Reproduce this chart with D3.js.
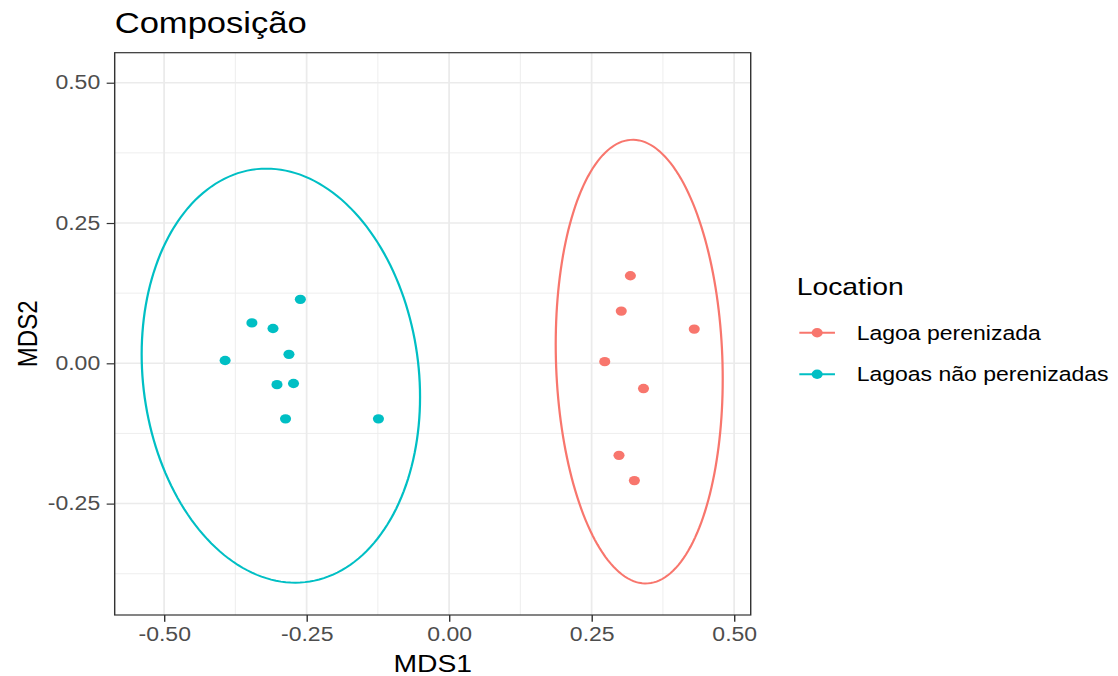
<!DOCTYPE html>
<html>
<head>
<meta charset="utf-8">
<script src="https://cdn.jsdelivr.net/npm/d3@7"></script>
<style>
  html, body { margin: 0; padding: 0; background: #ffffff; }
  svg { display: block; }
</style>
</head>
<body>
<svg id="chart"></svg>
<script>
// ---- data -------------------------------------------------------------
const groups = ["Lagoa perenizada", "Lagoas não perenizadas"];
const groupColors = ["#F8766D", "#00BFC4"];

const mds1Perenizada = [0.318, 0.302, 0.430, 0.273, 0.341, 0.298, 0.325];
const mds2Perenizada = [0.156, 0.093, 0.061, 0.003, -0.045, -0.164, -0.209];

const mds1NaoPerenizada = [-0.261, -0.346, -0.309, -0.393, -0.281, -0.302, -0.273, -0.287, -0.124];
const mds2NaoPerenizada = [0.114, 0.072, 0.062, 0.005, 0.016, -0.038, -0.036, -0.099, -0.099];

// 95% confidence ellipses per group: centre and shape matrix (MDS units)
const ellipseCenterX = [0.3335, -0.2952];
const ellipseCenterY = [0.003, -0.022];
const ellipseSxx = [0.02146, 0.05963];
const ellipseSyy = [0.15627, 0.1361];
const ellipseSxy = [-0.0045, -0.0093];

const xTicks = [-0.5, -0.25, 0, 0.25, 0.5];
const yTicks = [-0.25, 0, 0.25, 0.5];
const xMinorTicks = [-0.375, -0.125, 0.125, 0.375];
const yMinorTicks = [-0.375, -0.125, 0.125, 0.375];

const xDomain = [-0.5867, 0.5291];
const yDomain = [-0.4485, 0.5535];

// ---- layout -----------------------------------------------------------
const W = 1118, H = 676;
const stretch = 1.18;              // horizontal aspect of the output
const VW = W / stretch;            // drawing width in user units
const panel = { left: 97.2, right: 636.2, top: 52.7, bottom: 615 };
const font = "'Liberation Sans', Arial, Helvetica, sans-serif";

const svg = d3.select("#chart")
  .attr("width", W).attr("height", H)
  .attr("viewBox", `0 0 ${VW} ${H}`)
  .attr("preserveAspectRatio", "none");

svg.append("rect").attr("width", VW).attr("height", H).attr("fill", "#ffffff");

const x = d3.scaleLinear().domain(xDomain).range([panel.left, panel.right]);
const y = d3.scaleLinear().domain(yDomain).range([panel.bottom, panel.top]);

const points = [
  ...mds1Perenizada.map((v, i) => ({ g: 0, x: v, y: mds2Perenizada[i] })),
  ...mds1NaoPerenizada.map((v, i) => ({ g: 1, x: v, y: mds2NaoPerenizada[i] }))
];

// ---- grid -------------------------------------------------------------
const grid = svg.append("g");
grid.selectAll(".xminor").data(xMinorTicks).join("line")
  .attr("x1", d => x(d)).attr("x2", d => x(d))
  .attr("y1", panel.top).attr("y2", panel.bottom)
  .attr("stroke", "#EBEBEB").attr("stroke-width", 0.8);
grid.selectAll(".yminor").data(yMinorTicks).join("line")
  .attr("y1", d => y(d)).attr("y2", d => y(d))
  .attr("x1", panel.left).attr("x2", panel.right)
  .attr("stroke", "#EBEBEB").attr("stroke-width", 0.8);
grid.selectAll(".xmajor").data(xTicks).join("line")
  .attr("x1", d => x(d)).attr("x2", d => x(d))
  .attr("y1", panel.top).attr("y2", panel.bottom)
  .attr("stroke", "#EBEBEB").attr("stroke-width", 1.5);
grid.selectAll(".ymajor").data(yTicks).join("line")
  .attr("y1", d => y(d)).attr("y2", d => y(d))
  .attr("x1", panel.left).attr("x2", panel.right)
  .attr("stroke", "#EBEBEB").attr("stroke-width", 1.5);

// ---- ellipses ---------------------------------------------------------
function ellipsePoints(g) {
  const l11 = Math.sqrt(ellipseSxx[g]);
  const l21 = ellipseSxy[g] / l11;
  const l22 = Math.sqrt(ellipseSyy[g] - l21 * l21);
  return d3.range(0, 2 * Math.PI, Math.PI / 90).map(t => [
    ellipseCenterX[g] + l11 * Math.cos(t),
    ellipseCenterY[g] + l21 * Math.cos(t) + l22 * Math.sin(t)
  ]);
}
const ellipseLine = d3.line().x(d => x(d[0])).y(d => y(d[1])).curve(d3.curveLinearClosed);
svg.append("g").selectAll("path").data(groups.map((_, i) => i)).join("path")
  .attr("d", g => ellipseLine(ellipsePoints(g)))
  .attr("fill", "none")
  .attr("stroke", g => groupColors[g])
  .attr("stroke-width", 1.9);

// ---- points -----------------------------------------------------------
svg.append("g").selectAll("circle").data(points).join("circle")
  .attr("cx", d => x(d.x)).attr("cy", d => y(d.y))
  .attr("r", 4.7)
  .attr("fill", d => groupColors[d.g]);

// ---- panel border -----------------------------------------------------
svg.append("rect")
  .attr("x", panel.left).attr("y", panel.top)
  .attr("width", panel.right - panel.left).attr("height", panel.bottom - panel.top)
  .attr("fill", "none").attr("stroke", "#333333").attr("stroke-width", 1.2);

// ---- axes -------------------------------------------------------------
// labels use a plain hyphen for the minus sign
const fmt = v => d3.format(".2f")(v).replace("\u2212", "-");
const xAxis = svg.append("g")
  .attr("transform", `translate(0,${panel.bottom})`)
  .call(d3.axisBottom(x).tickValues(xTicks).tickFormat(fmt).tickSize(6.8).tickPadding(5));
const yAxis = svg.append("g")
  .attr("transform", `translate(${panel.left},0)`)
  .call(d3.axisLeft(y).tickValues(yTicks).tickFormat(fmt).tickSize(6.8).tickPadding(5.5));
[xAxis, yAxis].forEach(a => {
  a.select(".domain").remove();
  a.selectAll(".tick line").attr("stroke", "#333333").attr("stroke-width", 1.2);
  a.selectAll(".tick text")
    .attr("fill", "#4D4D4D")
    .style("font-family", font)
    .style("font-size", "19.5px");
});
xAxis.selectAll(".tick text").attr("dy", "0.71em");

// axis titles
svg.append("text")
  .attr("x", (panel.left + panel.right) / 2).attr("y", 672)
  .attr("text-anchor", "middle")
  .style("font-family", font).style("font-size", "24px").attr("fill", "#000")
  .text("MDS1");
svg.append("text")
  .attr("transform", `translate(31,${(panel.top + panel.bottom) / 2}) rotate(-90)`)
  .attr("text-anchor", "middle")
  .style("font-family", font).style("font-size", "24px").attr("fill", "#000")
  .text("MDS2");

// title
svg.append("text")
  .attr("x", panel.left).attr("y", 33)
  .style("font-family", font).style("font-size", "29.3px").attr("fill", "#000")
  .text("Composição");

// ---- legend -----------------------------------------------------------
const legend = svg.append("g");
legend.append("text")
  .attr("x", 675.2).attr("y", 295)
  .style("font-family", font).style("font-size", "24px").attr("fill", "#000")
  .text("Location");
const rowY = [332.7, 374.3];
const rows = legend.selectAll(".row").data(groups).join("g")
  .attr("transform", (d, i) => `translate(0,${rowY[i]})`);
rows.append("line")
  .attr("x1", 677.4).attr("x2", 707.6).attr("y1", 0).attr("y2", 0)
  .attr("stroke", (d, i) => groupColors[i]).attr("stroke-width", 1.9);
rows.append("circle")
  .attr("cx", 692.5).attr("cy", 0).attr("r", 4.7)
  .attr("fill", (d, i) => groupColors[i]);
rows.append("text")
  .attr("x", 726).attr("y", 0).attr("dy", "0.35em")
  .style("font-family", font).style("font-size", "19.5px").attr("fill", "#000")
  .text(d => d);
</script>
</body>
</html>
